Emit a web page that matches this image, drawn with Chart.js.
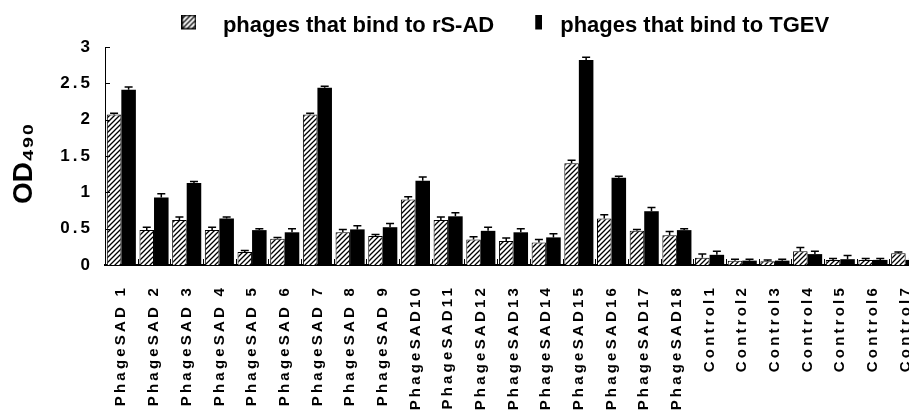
<!DOCTYPE html>
<html lang="en">
<head>
    <meta charset="utf-8">
    <title>OD490 of phages binding to rS-AD and TGEV</title>
    <script src="https://cdn.jsdelivr.net/npm/chart.js"></script>
    <style>
        html, body {
            margin: 0;
            padding: 0;
            background: #fff;
            overflow: hidden;
        }
        #wrap {
            width: 922px;
            height: 414px;
        }
    </style>
</head>
<body>
    <div id="wrap"><canvas id="odChart" width="922" height="414"></canvas></div>
    <script>
        // data
        const categories = [
            'PhageSAD 1', 'PhageSAD 2', 'PhageSAD 3', 'PhageSAD 4', 'PhageSAD 5', 'PhageSAD 6',
            'PhageSAD 7', 'PhageSAD 8', 'PhageSAD 9', 'PhageSAD10', 'PhageSAD11', 'PhageSAD12',
            'PhageSAD13', 'PhageSAD14', 'PhageSAD15', 'PhageSAD16', 'PhageSAD17', 'PhageSAD18',
            'Control1', 'Control2', 'Control3', 'Control4', 'Control5', 'Control6', 'Control7'
        ];
        const rsadValues = [2.07, 0.48, 0.62, 0.48, 0.18, 0.36, 2.07, 0.45, 0.40, 0.90, 0.62, 0.35,
            0.33, 0.31, 1.40, 0.64, 0.47, 0.41, 0.10, 0.06, 0.05, 0.19, 0.07, 0.07, 0.16];
        const tgevValues = [2.41, 0.93, 1.13, 0.64, 0.48, 0.45, 2.44, 0.49, 0.52, 1.16, 0.67, 0.47,
            0.45, 0.38, 2.82, 1.20, 0.74, 0.48, 0.14, 0.06, 0.06, 0.15, 0.08, 0.07, 0.07];
        const rsadErrors = [0.02, 0.04, 0.04, 0.04, 0.02, 0.02, 0.02, 0.04, 0.02, 0.04, 0.04, 0.04,
            0.04, 0.04, 0.04, 0.05, 0.02, 0.05, 0.05, 0.02, 0.02, 0.05, 0.02, 0.02, 0.02];
        const tgevErrors = [0.04, 0.05, 0.02, 0.02, 0.02, 0.05, 0.02, 0.05, 0.05, 0.05, 0.05, 0.05,
            0.05, 0.05, 0.04, 0.02, 0.05, 0.02, 0.05, 0.02, 0.02, 0.04, 0.05, 0.02, 0.02];
        const yTicks = [0, 0.5, 1, 1.5, 2, 2.5, 3];
        const seriesNames = ['phages that bind to rS-AD', 'phages that bind to TGEV'];

        // diagonal hatch fill
        function makeHatch() {
            const c = document.createElement('canvas');
            c.width = 5;
            c.height = 5;
            const g = c.getContext('2d');
            g.fillStyle = '#fff';
            g.fillRect(0, 0, 5, 5);
            g.strokeStyle = '#000';
            g.lineWidth = 1.3;
            g.beginPath();
            g.moveTo(0, 5); g.lineTo(5, 0);
            g.moveTo(-1, 1); g.lineTo(1, -1);
            g.moveTo(4, 6); g.lineTo(6, 4);
            g.stroke();
            return g.createPattern(c, 'repeat');
        }
        const hatch = makeHatch();

        // legend swatches (transparent padding shifts them up / left of the text)
        const hatchSwatch = document.createElement('canvas');
        hatchSwatch.width = 15;
        hatchSwatch.height = 23;
        (function () {
            const g = hatchSwatch.getContext('2d');
            g.fillStyle = hatch;
            g.fillRect(0, 0, 15, 15);
            g.strokeStyle = '#000';
            g.lineWidth = 1.5;
            g.strokeRect(0.75, 0.75, 13.5, 13.5);
        })();
        const barSwatch = document.createElement('canvas');
        barSwatch.width = 32;
        barSwatch.height = 23;
        (function () {
            const g = barSwatch.getContext('2d');
            g.fillStyle = '#000';
            g.fillRect(25, 0, 7, 15);
        })();

        const errorBars = {
            id: 'errorBars',
            afterDatasetsDraw(chart) {
                const ctx = chart.ctx;
                const y = chart.scales.y;
                ctx.save();
                ctx.strokeStyle = '#000';
                ctx.lineWidth = 1.5;
                [rsadErrors, tgevErrors].forEach((errs, di) => {
                    const vals = chart.data.datasets[di].data;
                    chart.getDatasetMeta(di).data.forEach((bar, i) => {
                        const top = y.getPixelForValue(vals[i] + errs[i]);
                        ctx.beginPath();
                        ctx.moveTo(bar.x, bar.y);
                        ctx.lineTo(bar.x, top);
                        ctx.moveTo(bar.x - 4, top);
                        ctx.lineTo(bar.x + 4, top);
                        ctx.stroke();
                    });
                });
                ctx.restore();
            }
        };

        // small tick marks pointing into the plot
        const innerTicks = {
            id: 'innerTicks',
            afterDatasetsDraw(chart) {
                const ctx = chart.ctx;
                const { x, y } = chart.scales;
                ctx.save();
                ctx.strokeStyle = '#000';
                ctx.lineWidth = 1;
                yTicks.forEach(v => {
                    const py = Math.round(y.getPixelForValue(v)) + 0.5;
                    ctx.beginPath();
                    ctx.moveTo(x.left, py);
                    ctx.lineTo(x.left + 5, py);
                    ctx.stroke();
                });
                for (let i = 1; i < categories.length; i++) {
                    const px = Math.round((x.getPixelForValue(i - 1) + x.getPixelForValue(i)) / 2) + 0.5;
                    ctx.beginPath();
                    ctx.moveTo(px, y.bottom);
                    ctx.lineTo(px, y.bottom - 6);
                    ctx.stroke();
                }
                ctx.restore();
            }
        };

        // spaced-out tick labels
        const spacedLabels = {
            id: 'spacedLabels',
            beforeDraw(chart) {
                const gaps = { x: '3.2px', y: '3px' };
                Object.keys(gaps).forEach(id => {
                    const s = chart.scales[id];
                    if (!s || s._spaced) return;
                    const orig = s.drawLabels.bind(s);
                    s.drawLabels = function (area) {
                        this.ctx.save();
                        this.ctx.letterSpacing = gaps[id];
                        orig(area);
                        this.ctx.restore();
                    };
                    s._spaced = true;
                });
            }
        };

        // the legend sits a bit left of the plot centre
        const legendShift = {
            id: 'legendShift',
            afterLayout(chart) {
                chart.legend.left -= 16;
                chart.legend.right -= 16;
            }
        };

        new Chart(document.getElementById('odChart'), {
            type: 'bar',
            data: {
                labels: categories,
                datasets: [{
                    label: seriesNames[0],
                    data: rsadValues,
                    backgroundColor: hatch,
                    borderColor: '#000',
                    borderWidth: 1
                }, {
                    label: seriesNames[1],
                    data: tgevValues,
                    backgroundColor: '#000',
                    borderColor: '#000',
                    borderWidth: 0
                }]
            },
            options: {
                responsive: false,
                animation: false,
                categoryPercentage: 0.89,
                barPercentage: 1,
                layout: { padding: { top: 6, left: 0, right: 0, bottom: 0 } },
                plugins: {
                    tooltip: { enabled: false },
                    legend: {
                        fullSize: false,
                        labels: {
                            usePointStyle: true,
                            pointStyleWidth: 46,
                            color: '#000',
                            padding: 9,
                            font: { family: 'Arial', size: 22, weight: 'bold' },
                            generateLabels(chart) {
                                const items = Chart.defaults.plugins.legend.labels.generateLabels(chart);
                                items[0].pointStyle = hatchSwatch;
                                items[1].pointStyle = barSwatch;
                                return items;
                            }
                        }
                    }
                },
                scales: {
                    x: {
                        grid: { display: false },
                        border: { display: true, color: '#000', width: 2 },
                        ticks: {
                            color: '#000',
                            autoSkip: false,
                            maxRotation: 90,
                            minRotation: 90,
                            padding: 12,
                            font: { family: 'Arial', size: 15, weight: 'bold' }
                        },
                        afterFit(s) {
                            s.height = 149;
                            s.paddingLeft = 0;
                            s.paddingRight = 0;
                        }
                    },
                    y: {
                        min: 0,
                        max: 3,
                        grid: { display: false },
                        border: { display: true, color: '#000', width: 1 },
                        ticks: {
                            stepSize: 0.5,
                            color: '#000',
                            padding: 4,
                            font: { family: 'Arial', size: 17, weight: 'bold' },
                            callback: v => String(Number(v))
                        },
                        title: {
                            display: true,
                            text: 'OD₄₉₀  ',
                            color: '#000',
                            padding: { top: 7, bottom: 0 },
                            font: { family: 'Arial', size: 28, weight: 'bold' }
                        },
                        afterFit(s) { s.width = 105; }
                    }
                }
            },
            plugins: [errorBars, innerTicks, spacedLabels, legendShift]
        });
    </script>
</body>
</html>
